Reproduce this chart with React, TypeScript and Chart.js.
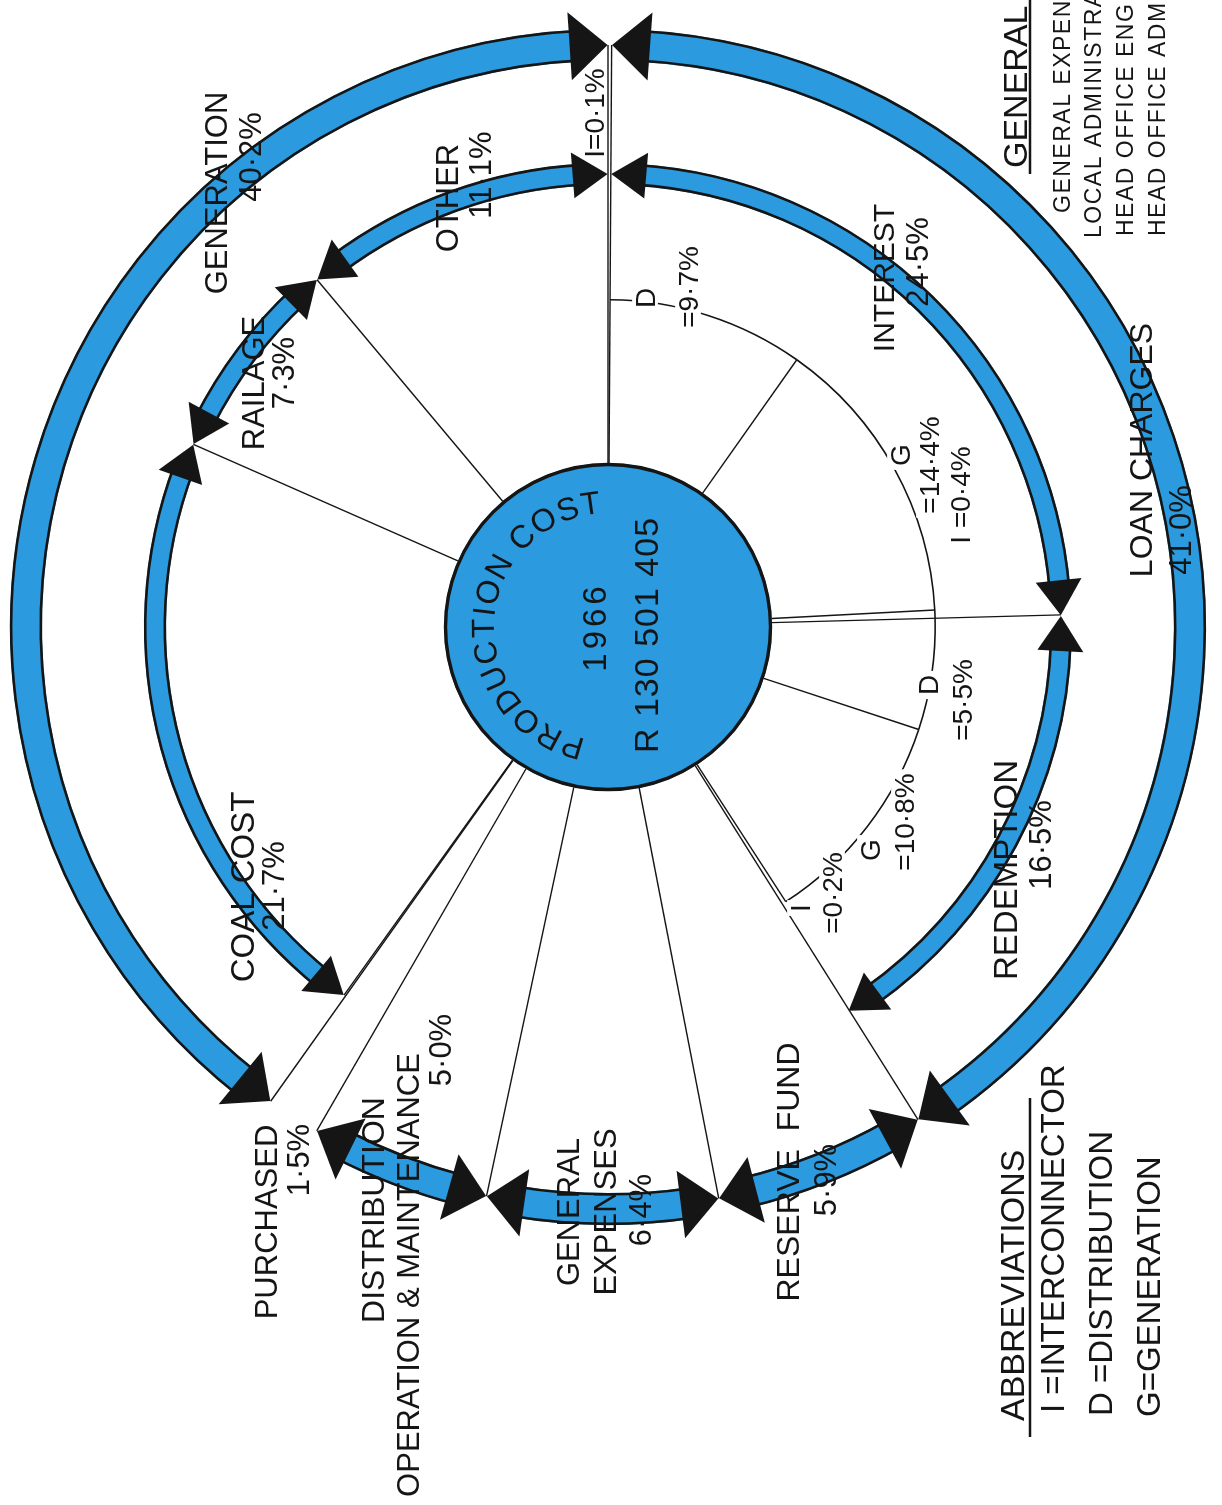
import React, { useEffect, useRef } from 'react';
import { Chart, registerables } from 'chart.js';

Chart.register(...registerables);

const CANVAS_W = 1222;
const CANVAS_H = 1505;
const BLUE = '#2c9ade';
const INK = '#151515';
const NONE = 'rgba(0,0,0,0)';
const FONT = '"Liberation Sans", Arial, Helvetica, sans-serif';
const TAU = Math.PI * 2;

// ---------------- data ----------------
const chartTitle = 'PRODUCTION COST';
const chartYear = '1966';
const chartTotal = 'R 130 501 405';

const topCodeLabel = 'I';
const topCodeValue = 0.1;

const loanLabel = 'LOAN CHARGES';
const loanValue = 41.0;
const loanPartLabels = ['INTEREST', 'REDEMPTION'];
const loanPartValues = [24.5, 16.5];

const splitCodes = ['D', 'G', 'I'];
const interestSplitValues = [9.7, 14.4, 0.4];
const redemptionSplitValues = [5.5, 10.8, 0.2];

const lowerLabels = ['RESERVE  FUND', 'GENERAL\nEXPENSES', 'DISTRIBUTION\nOPERATION & MAINTENANCE', 'PURCHASED'];
const lowerValues = [5.9, 6.4, 5.0, 1.5];
const lowerHasBand = [true, true, true, false];

const generationLabel = 'GENERATION';
const generationValue = 40.2;
const generationPartLabels = ['COAL COST', 'RAILAGE', 'OTHER'];
const generationPartValues = [21.7, 7.3, 11.1];

const abbreviationTitle = 'ABBREVIATIONS';
const abbreviationLines = ['I =INTERCONNECTOR', 'D =DISTRIBUTION', 'G=GENERATION'];
const generalTitle = 'GENERAL';
const generalLines = ['GENERAL EXPENS', 'LOCAL ADMINISTRA', 'HEAD OFFICE ENG', 'HEAD OFFICE ADM'];

// ---------------- rings built from the data (clockwise from 12 o'clock) ----------------
const outerRing = [topCodeValue, loanValue, ...lowerValues, generationValue];
const outerBand = [false, true, ...lowerHasBand, true];
const innerRing = [topCodeValue, ...loanPartValues, ...lowerValues, ...generationPartValues];
const innerBand = [false, true, true, ...lowerValues.map(() => false), ...generationPartValues.map(() => true)];
const splitRing = [topCodeValue, ...interestSplitValues, ...redemptionSplitValues, ...lowerValues, generationValue];
const splitArc = [false, true, true, true, true, true, false, ...lowerValues.map(() => false), false];

const pct = (v: number) => v.toFixed(1).replace('.', '\u00B7') + '%';

type Line = { t: string; x: number; y: number; s?: number; align?: CanvasTextAlign; ls?: number };

function rtext(ctx: CanvasRenderingContext2D, l: Line, def: number, boxed = false) {
  const size = l.s ?? def;
  ctx.save();
  ctx.translate(l.x, l.y);
  ctx.rotate(-Math.PI / 2);
  ctx.font = `${size}px ${FONT}`;
  (ctx as any).letterSpacing = `${l.ls ?? 0}px`;
  ctx.textAlign = l.align ?? 'center';
  ctx.textBaseline = 'alphabetic';
  if (boxed) {
    const w = ctx.measureText(l.t).width;
    ctx.fillStyle = '#ffffff';
    ctx.fillRect(-w / 2 - 4, -0.46 * size, w + 8, 0.92 * size);
  }
  ctx.fillStyle = INK;
  ctx.fillText(l.t, 0, 0.36 * size);
  ctx.restore();
}

const flowPlugin = {
  id: 'flowRings',
  afterDatasetsDraw(chart: any) {
    const ctx: CanvasRenderingContext2D = chart.ctx;
    const outerEls = chart.getDatasetMeta(0).data;
    const innerEls = chart.getDatasetMeta(2).data;
    const splitEls = chart.getDatasetMeta(4).data;
    const hub = chart.getDatasetMeta(6).data[0];
    const cx = hub.x;
    const cy = hub.y;
    const hubR = hub.outerRadius;
    const P = (r: number, a: number) => [cx + r * Math.cos(a), cy + r * Math.sin(a)];

    ctx.save();
    // hub outline
    ctx.beginPath();
    ctx.arc(cx, cy, hubR - 1.5, 0, TAU);
    ctx.lineWidth = 3.4;
    ctx.strokeStyle = INK;
    ctx.stroke();

    // radial boundary lines
    const ends: { a: number; r: number }[] = [];
    const collect = (els: any[], flags: boolean[]) =>
      els.forEach((el: any, i: number) => {
        if (!flags[i]) return;
        const rm = (el.innerRadius + el.outerRadius) / 2;
        ends.push({ a: el.startAngle, r: rm }, { a: el.endAngle, r: rm });
      });
    collect(outerEls, outerBand);
    collect(innerEls, innerBand);
    collect(splitEls, splitArc);
    const norm = (a: number) => ((a % TAU) + TAU) % TAU;
    ends.sort((p, q) => norm(p.a) - norm(q.a));
    const merged: { a: number; r: number }[] = [];
    ends.forEach((e) => {
      const last = merged[merged.length - 1];
      if (last && Math.abs(norm(e.a) - norm(last.a)) < 0.003) last.r = Math.max(last.r, e.r);
      else merged.push({ a: e.a, r: e.r });
    });
    ctx.lineWidth = 1.4;
    ctx.strokeStyle = INK;
    merged.forEach((m) => {
      const [x0, y0] = P(hubR, m.a);
      const [x1, y1] = P(m.r, m.a);
      ctx.beginPath();
      ctx.moveTo(x0, y0);
      ctx.lineTo(x1, y1);
      ctx.stroke();
    });

    // bands with double arrowheads
    const band = (el: any, L: number, W: number) => {
      const rIn = el.innerRadius;
      const rOut = el.outerRadius;
      const rm = (rIn + rOut) / 2;
      const s = el.startAngle;
      const e = el.endAngle;
      const da = L / rm;
      const bs = s + da * 0.7;
      const be = e - da * 0.7;
      ctx.beginPath();
      ctx.arc(cx, cy, rOut, bs, be);
      ctx.arc(cx, cy, rIn, be, bs, true);
      ctx.closePath();
      ctx.fillStyle = BLUE;
      ctx.fill();
      ctx.lineWidth = 2.6;
      ctx.strokeStyle = INK;
      ctx.beginPath();
      ctx.arc(cx, cy, rOut - 1.2, bs, be);
      ctx.stroke();
      ctx.beginPath();
      ctx.arc(cx, cy, rIn + 1.2, bs, be);
      ctx.stroke();
      const tri = (a: number, dir: number) => {
        const tip = P(rm, a);
        const b = a + dir * da;
        const b1 = P(rm - W / 2, b);
        const b2 = P(rm + W / 2, b);
        ctx.beginPath();
        ctx.moveTo(tip[0], tip[1]);
        ctx.lineTo(b1[0], b1[1]);
        ctx.lineTo(b2[0], b2[1]);
        ctx.closePath();
        ctx.fillStyle = INK;
        ctx.fill();
      };
      tri(s + 0.4 / rm, 1);
      tri(e - 0.4 / rm, -1);
    };
    outerEls.forEach((el: any, i: number) => outerBand[i] && band(el, 38, 68));
    innerEls.forEach((el: any, i: number) => innerBand[i] && band(el, 35, 46));

    // split labels on the thin arc
    const sub: Line[] = [
      { t: splitCodes[0], x: 645, y: 298 },
      { t: '=' + pct(interestSplitValues[0]), x: 688, y: 287 },
      { t: splitCodes[1], x: 900, y: 455 },
      { t: '=' + pct(interestSplitValues[1]), x: 929, y: 465 },
      { t: splitCodes[2] + ' =' + pct(interestSplitValues[2]), x: 960, y: 495 },
      { t: splitCodes[0], x: 928, y: 685 },
      { t: '=' + pct(redemptionSplitValues[0]), x: 962, y: 700 },
      { t: splitCodes[1], x: 870, y: 850 },
      { t: '=' + pct(redemptionSplitValues[1]), x: 904, y: 822 },
      { t: splitCodes[2], x: 800, y: 908 },
      { t: '=' + pct(redemptionSplitValues[2]), x: 832, y: 893 },
    ];
    sub.forEach((l) => rtext(ctx, l, 28, true));

    // main labels
    const [resL, genExpL, distL, purchL] = lowerLabels;
    const [gexp1, gexp2] = genExpL.split('\n');
    const [dist1, dist2] = distL.split('\n');
    const main: Line[] = [
      { t: generationLabel, x: 216, y: 193 },
      { t: pct(generationValue), x: 250, y: 157 },
      { t: generationPartLabels[2], x: 447, y: 198 },
      { t: pct(generationPartValues[2]), x: 480, y: 175 },
      { t: generationPartLabels[1], x: 253, y: 383 },
      { t: pct(generationPartValues[1]), x: 283, y: 373 },
      { t: generationPartLabels[0], x: 242, y: 887, s: 33 },
      { t: pct(generationPartValues[0]), x: 273, y: 886 },
      { t: purchL, x: 266, y: 1222 },
      { t: pct(lowerValues[3]), x: 298, y: 1160 },
      { t: dist1, x: 372, y: 1210, s: 32 },
      { t: dist2, x: 408, y: 1275 },
      { t: pct(lowerValues[2]), x: 440, y: 1050 },
      { t: gexp1, x: 568, y: 1212 },
      { t: gexp2, x: 605, y: 1212 },
      { t: pct(lowerValues[1]), x: 640, y: 1210 },
      { t: resL, x: 787, y: 1172, s: 32 },
      { t: pct(lowerValues[0]), x: 825, y: 1180 },
      { t: loanPartLabels[1], x: 1005, y: 870, s: 33 },
      { t: pct(loanPartValues[1]), x: 1040, y: 845 },
      { t: loanPartLabels[0], x: 883, y: 278, s: 30 },
      { t: pct(loanPartValues[0]), x: 917, y: 262 },
      { t: loanLabel, x: 1140, y: 450, s: 32 },
      { t: pct(loanValue), x: 1180, y: 530 },
      { t: `${topCodeLabel}=${pct(topCodeValue)}`, x: 594, y: 113, s: 28 },
    ];
    main.forEach((l) => rtext(ctx, l, 31));

    // hub texts
    rtext(ctx, { t: chartYear, x: cx - 14, y: cy, s: 33, ls: 4 }, 33);
    rtext(ctx, { t: chartTotal, x: cx + 38, y: cy + 8, s: 34, ls: 1 }, 34);
    // curved title
    ctx.font = `32px ${FONT}`;
    (ctx as any).letterSpacing = '0px';
    const spacing = 1.2;
    const rBase = 114;
    const chars = [...chartTitle];
    const widths = chars.map((c) => ctx.measureText(c).width);
    const total = widths.reduce((a, b) => a + b, 0) + spacing * (chars.length - 1);
    let a = (184 * Math.PI) / 180 - total / rBase / 2;
    chars.forEach((c, i) => {
      const mid = a + widths[i] / 2 / rBase;
      const [x, y] = P(rBase, mid);
      ctx.save();
      ctx.translate(x, y);
      ctx.rotate(mid + Math.PI / 2);
      ctx.textAlign = 'center';
      ctx.textBaseline = 'alphabetic';
      ctx.fillStyle = INK;
      ctx.fillText(c, 0, 0);
      ctx.restore();
      a += (widths[i] + spacing) / rBase;
    });

    // abbreviations block
    rtext(ctx, { t: abbreviationTitle, x: 1012, y: 1421, s: 34, align: 'left' }, 34);
    ctx.beginPath();
    ctx.moveTo(1030, 1437);
    ctx.lineTo(1030, 1098);
    ctx.lineWidth = 2.5;
    ctx.strokeStyle = INK;
    ctx.stroke();
    const abX = [1052, 1100, 1148];
    const abY = [1413, 1416, 1417];
    abbreviationLines.forEach((t, i) => rtext(ctx, { t, x: abX[i], y: abY[i], align: 'left' }, 33));

    // general legend (top right)
    rtext(ctx, { t: generalTitle, x: 1015, y: 168, align: 'left' }, 34);
    ctx.beginPath();
    ctx.moveTo(1030, 174);
    ctx.lineTo(1030, 0);
    ctx.lineWidth = 2.5;
    ctx.stroke();
    const gX = [1062, 1093, 1125, 1157];
    const gY = [213, 238, 236, 236];
    generalLines.forEach((t, i) => rtext(ctx, { t, x: gX[i], y: gY[i], align: 'left', ls: 1.5 }, 23));
    ctx.restore();
  },
};

export default function App() {
  const ref = useRef<HTMLCanvasElement | null>(null);
  useEffect(() => {
    if (!ref.current) return;
    const flat = { borderWidth: 0, hoverBorderWidth: 0, offset: 0, hoverOffset: 0 };
    const chart = new Chart(ref.current, {
      type: 'doughnut',
      data: {
        labels: splitRing.map((_, i) => String(i)),
        datasets: [
          { label: 'outer', data: outerRing, weight: 32, backgroundColor: NONE, ...flat },
          { label: 'gap1', data: [1], weight: 102, backgroundColor: NONE, ...flat },
          { label: 'inner', data: innerRing, weight: 22, backgroundColor: NONE, ...flat },
          { label: 'gap2', data: [1], weight: 114, backgroundColor: NONE, ...flat },
          { label: 'split', data: splitRing, weight: 1.6, backgroundColor: splitArc.map((f) => (f ? INK : NONE)), ...flat },
          { label: 'gap3', data: [1], weight: 162.4, backgroundColor: NONE, ...flat },
          { label: 'hub', data: [1], weight: 164, backgroundColor: BLUE, ...flat },
        ] as any,
      },
      options: {
        responsive: false,
        maintainAspectRatio: false,
        animation: false,
        devicePixelRatio: 1,
        events: [],
        cutout: 0,
        rotation: 0,
        layout: { padding: { left: 10, right: 16, top: 29, bottom: 280 } },
        plugins: { legend: { display: false }, tooltip: { enabled: false } },
      } as any,
      plugins: [flowPlugin as any],
    });
    return () => chart.destroy();
  }, []);
  return (
    <div style={{ position: 'absolute', left: 0, top: 0, width: CANVAS_W, height: CANVAS_H, background: '#fff' }}>
      <canvas ref={ref} width={CANVAS_W} height={CANVAS_H} style={{ display: 'block' }} />
    </div>
  );
}
